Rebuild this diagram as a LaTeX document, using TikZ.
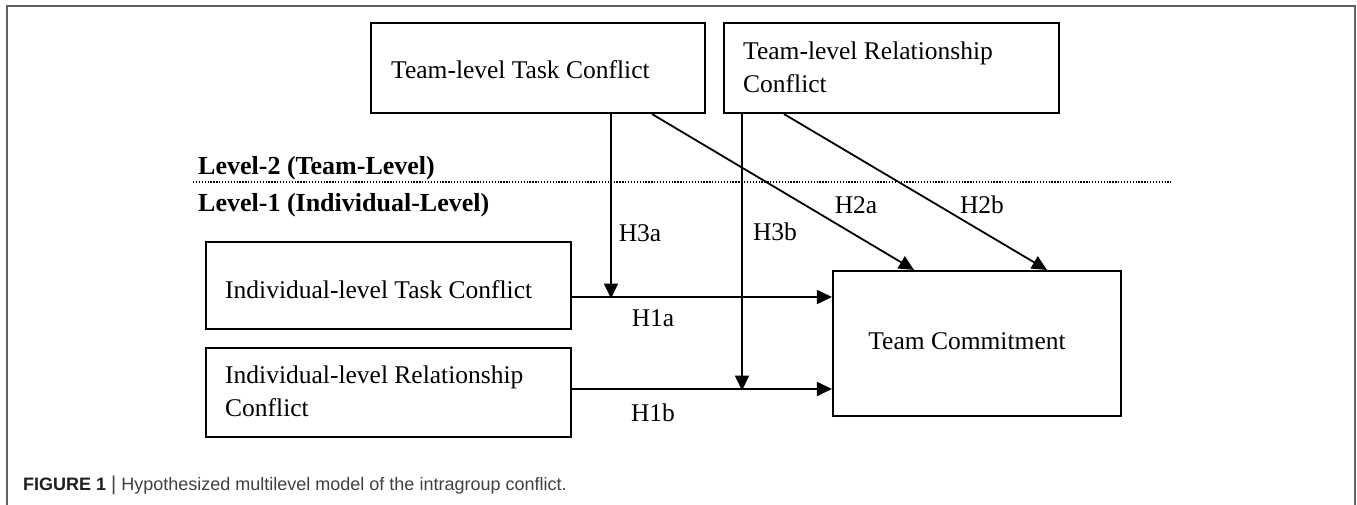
\documentclass[tikz,border=0pt]{standalone}
\usepackage{fontspec}
\setmainfont{Liberation Serif}
\setsansfont{Liberation Sans}
\usetikzlibrary{arrows.meta}
\begin{document}
\begin{tikzpicture}[x=1pt,y=-1pt,
  txt/.style={font=\fontsize{25.5}{33}\selectfont},
  boxnode/.style={draw=black,line width=2.1pt,inner sep=0pt,txt},
  conn/.style={line width=1.8pt},
  arr/.style={conn,-{Triangle[length=15pt,width=14pt]}},
  lvl/.style={font=\fontsize{26}{30}\selectfont\bfseries,anchor=west,inner sep=0pt},
  hyp/.style={txt,inner sep=0pt}
]
\useasboundingbox (0,0) rectangle (1357,505);
% frame
\draw[line width=1.6pt,draw=black!62] (7,505) -- (7,6) -- (1355,6) -- (1355,505);

% boxes
\node[boxnode,minimum width=334pt,minimum height=90pt] (ttc) at (538,68) {};
\node[txt,anchor=west,inner sep=0pt] (ttct) at (391,70) {Team-level Task Conflict};
\node[boxnode,minimum width=335pt,minimum height=90pt] (trc) at (891.5,68) {};
\node[txt,anchor=west,inner sep=0pt,align=left] (trct) at (743,67.5) {Team-level Relationship\\Conflict};
\node[boxnode,minimum width=365pt,minimum height=87pt] (itc) at (388.5,285.5) {};
\node[txt,anchor=west,inner sep=0pt] (itct) at (225,290) {Individual-level Task Conflict};
\node[boxnode,minimum width=365pt,minimum height=89pt] (irc) at (388.5,392.5) {};
\node[txt,anchor=west,inner sep=0pt,align=left] (irct) at (225,391.5) {Individual-level Relationship\\Conflict};
\node[boxnode,minimum width=288pt,minimum height=145pt] (tc) at (977,343.5) {};
\node[txt,inner sep=0pt] (tct) at (967,341) {Team Commitment};

% level labels and divider
\node[lvl] (l2) at (198,168) {Level-2 (Team-Level)};
\node[lvl] (l1) at (198,205) {Level-1 (Individual-Level)};
\coordinate (dl) at (193,182);
\coordinate (dr) at (1171,182);
\draw[line width=1.9pt,dash pattern=on 1.3pt off 1.6pt] (dl) -- (dr);

% connectors
\coordinate (m1) at (611,297);
\coordinate (m2) at (742,389);
\draw[conn] (itc.east |- m1) -- (m1);
\draw[arr] (m1) -- (tc.west |- m1);
\draw[conn] (irc.east |- m2) -- (m2);
\draw[arr] (m2) -- (tc.west |- m2);
\draw[arr] (ttc.south -| m1) -- ([yshift=-1.5pt]m1);
\draw[arr] (trc.south -| m2) -- ([yshift=-1.5pt]m2);
\coordinate (a1) at (652,113);
\coordinate (a2) at (784,113);
\coordinate (b1) at (914,271);
\coordinate (b2) at (1047,271);
\draw[arr] (ttc.south -| a1) -- (tc.north -| b1);
\draw[arr] (trc.south -| a2) -- (tc.north -| b2);

% hypothesis labels
\node[hyp] (h3a) at (640,233) {H3a};
\node[hyp] (h3b) at (775,232) {H3b};
\node[hyp] (h2a) at (856,205) {H2a};
\node[hyp] (h2b) at (982,205) {H2b};
\node[hyp] (h1a) at (653,318) {H1a};
\node[hyp] (h1b) at (653,413) {H1b};

% caption
\node[anchor=base west,inner sep=0pt,font=\sffamily\fontsize{18}{22}\selectfont,text=black!75] (cap) at (23,490) {\textcolor{black!88}{\textbf{FIGURE 1}} {\fontsize{20}{22}\selectfont|} Hypothesized multilevel model of the intragroup conflict.};
\end{tikzpicture}
\end{document}
